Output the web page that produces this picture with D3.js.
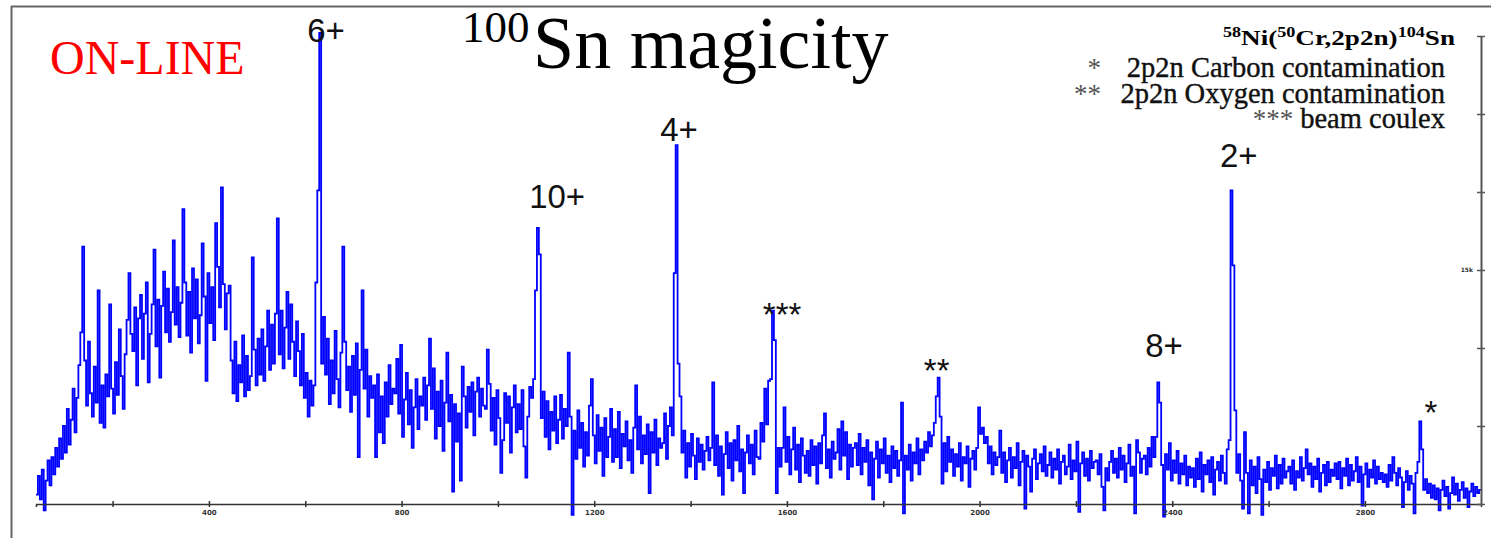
<!DOCTYPE html>
<html>
<head>
<meta charset="utf-8">
<script src="https://cdn.jsdelivr.net/npm/d3@7"></script>
<style>
    body { margin: 0; background: #fff; }
    svg { display: block; }
</style>
</head>
<body>
<div id="viz-spectrum"></div>
<script>
/**********************/
/******* data         */
/**********************/

// gamma spectrum, counts per bin of 4 channels, first bin starts at channel 41
const binStart = 41;
const binWidth = 4;
const counts = [
    // 41 - 140
    600, 1800, 300, 2200, -400, 1500, 2800, 1200, 3000, 1900, 3600, 2400, 4200, 2900, 5000, 3300, 6100, 3800, 5400, 7400, 4600, 6800, 8900, 11000, 16500,
    // 141 - 240
    9200, 6300, 10400, 7100, 5600, 8800, 6500, 13700, 5200, 7600, 4900, 8300, 6900, 12800, 7400, 5800, 9100, 7000, 11200, 8200, 6100, 9600, 11800, 14800, 10900,
    // 241 - 340
    9800, 12600, 7600, 11900, 13400, 9300, 12200, 14200, 7800, 10900, 12800, 16300, 10100, 13100, 8100, 12700, 14900, 11000, 13800, 10400, 12300, 16900, 11500, 13900, 10700,
    // 341 - 440
    12900, 18900, 14200, 10800, 13600, 9700, 15100, 11900, 14400, 10300, 12100, 16700, 13300, 7900, 14800, 11600, 13900, 10500, 18000, 15200, 12600, 20300, 14100, 11200, 13500,
    // 441 - 540
    14000, 9200, 7100, 10400, 6600, 8900, 7800, 10800, 6900, 9500, 7300, 8200, 15800, 9900, 7600, 10600, 8300, 11200, 7900, 10100, 12400, 8600, 11500, 9000, 12200,
    // 541 - 640 (6+)
    18300, 9600, 12400, 8700, 11300, 13600, 9300, 12800, 10400, 8200, 11700, 9800, 7600, 10900, 6800, 8400, 5600, 7900, 6300, 7600, 14200, 20100, 30200, 9000, 12000,
    // 641 - 740
    8300, 10600, 6400, 9200, 7100, 11100, 8000, 6200, 9700, 16500, 10400, 7300, 8800, 5900, 9500, 7000, 10300, 3000, 8600, 13700, 7400, 9900, 5600, 8200, 6800,
    // 741 - 840
    7600, 3000, 8300, 4600, 6900, 3900, 7800, 5600, 8900, 6400, 7400, 7100, 9300, 5800, 10200, 4300, 6700, 8400, 5100, 7300, 3600, 6200, 8000, 4800, 6900,
    // 841 - 940
    6300, 8100, 5400, 7600, 10600, 6100, 8700, 4200, 7200, 5000, 7900, 3400, 6500, 9700, 5300, 7000, 800, 6400, 4000, 5800, 1500, 8800, 6900, 4900, 7500,
    // 941 - 1040
    5900, 7800, 4400, 7200, 8100, 5600, 7400, 6300, 6100, 9900, 7700, 4700, 6800, 3800, 7300, 5500, 2000, 4100, 7100, 5200, 6900, 3300, 6200, 7600, 4600,
    // 1041 - 1140 (10+)
    6400, 4800, 7300, 3700, 1700, 5600, 7500, 6800, 8000, 13700, 17700, 16000, 5500, 7200, 4300, 6600, 3500, 5900, 4700, 6900, 3900, 5400, 7000, 4200, 6100,
    // 1141 - 1240
    5000, 9700, 5600, -700, 4700, 2900, 6000, 3600, 5200, 2400, 4600, 3100, 6300, 8000, 4400, 2600, 5700, 3400, 4900, 1800, 5500, 3000, 4300, 6100, 2700,
    // 1241 - 1340
    4800, 3000, 5900, 2300, 4500, 3700, 5300, 2800, 4100, 2000, 4900, 7600, 3500, 5600, 2600, 4400, 3200, 5100, 700, 4600, 3300, 5400, 2500, 4200, 3600,
    // 1341 - 1440 (4+)
    3900, 5800, 2900, 5000, 6200, 4400, 14800, 23000, 9000, 6900, 3300, 4700, 1700, 3900, 2400, 4500, 3100, 1600, 4200, 2700, 3800, 2200, 3400, 4300, 2800,
    // 1441 - 1540
    3600, 7800, 2500, 4400, 1800, 3700, 600, 3200, 4600, 2300, 3900, 1500, 4100, 2800, 5000, 2100, 3500, 700, 3300, 4400, 2600, 3800, 1900, 4700, 3000,
    // 1541 - 1640 (***)
    2900, 5200, 4000, 7400, 5100, 7900, 8000, 12400, 10500, 700, 3600, 2400, 3600, 6200, 2700, 4300, 1900, 3500, 4900, 2200, 3800, 1400, 4200, 3100, 2000,
    // 1641 - 1740
    3400, 1800, 4100, 2500, 3700, 1300, 3900, 2600, 4400, 5800, 2300, 3500, 1700, 4000, 2900, 3300, 4800, 2200, 5300, 3100, 4600, 1600, 3800, 2400, 3600,
    // 1741 - 1840
    3900, 2500, 4500, 1900, 3600, 2700, 4100, 1200, 3300, 300, 2900, 4000, 1700, 3500, 2600, 4200, 2000, 3100, 1400, 3700, 2300, 3400, 1800, 2800, 6500,
    // 1841 - 1940 (**)
    -600, 3100, 2200, 3800, 1500, 3300, 2600, 4200, 1900, 3500, 2800, 4000, 3300, 4600, 3700, 4400, 5200, 6900, 8100, 5600, 1300, 3900, 2100, 4300, 2700,
    // 1941 - 2040
    3500, 1800, 3200, 2400, 3900, 1500, 3000, 2600, 3700, 1100, 2900, 3400, 2200, 3600, 6200, 4500, 4900, 3900, 4300, 2600, 3700, 1900, 3300, 2500, 3000,
    // 2041 - 2140
    4700, 2000, 3300, 1400, 2800, 3600, 1700, 3000, 2300, 3900, 1200, 2700, 3400, -300, 3100, 2400, 800, 2900, 3500, 1600, 2600, 3200, 2100, 3700, 1800,
    // 2141 - 2240
    2500, 3300, 1700, 2900, 2200, 3500, 1300, 2700, 3100, 1900, 2400, 3800, 1600, 2800, 2100, 4000, -500, 2600, 3300, 1800, 2900, 1500, 3400, 2300, 2700,
    // 2241 - 2340
    2800, 1900, 3200, 1100, -400, 2300, 1500, 2700, 3400, 2000, 2900, 1700, 3600, 2200, 3100, 1400, 2600, 3800, 1800, 2400, -600, 4100, 3300, 2000, 2900,
    // 2341 - 2440 (8+)
    3100, 1900, 3600, 2400, 4300, 3000, 4300, 7800, 6500, 2500, -800, 3200, 2200, 3900, 1500, 2800, 2000, 3400, 1300, 2600, 1900, 3100, 1200, 2400, 1700,
    // 2441 - 2540 (2+)
    2300, 1100, 2900, 1600, 3300, 800, 2500, 1900, 2800, 1400, 3000, 600, 2200, 2700, 1500, 3100, 2000, 1300, 3500, 4100, 20100, 15300, 6000, 2000, 3200,
    // 2541 - 2640
    1500, -300, 4600, 2000, -600, 2800, 1200, 2400, 700, 3000, 1600, -700, 2200, 1400, 2700, 900, 2300, 1800, 3100, 1000, 2500, 1300, 2900, 1700, 2100,
    // 2641 - 2740
    2400, 1300, 2800, 900, 2100, 1700, 3000, 1500, 2300, 3500, 1900, 2600, 1100, 2400, 1600, 2900, 800, 2000, 2500, 1200, 2700, 1400, 2200, 1800, 2600,
    // 2741 - 2840
    1600, 2700, 1000, 2300, 1800, 2900, 1200, 2500, 1500, 2100, 3000, 1400, 2400, -100, 1900, 2600, 1100, 2200, 1700, 2800, 1300, 2400, 1600, 2000, 1400,
    // 2841 - 2940 (*)
    1900, 1100, 2500, 1500, 3000, 2000, 1200, 2300, 1700, -200, 1400, 2100, 900, 1800, 1300, -600, 2000, 2700, 5300, 3500, 900, 1600, 700, 1300, 400,
    // 2941 - 3040
    1200, 300, 1000, -400, 900, 1500, 500, 1100, -300, 700, 1700, 600, 1300, 200, 900, 1400, 400, 1000, -200, 800, 1300, 500, 1100, 700, 900
];

// transition labels (channel and count where the label sits)
const peakLabels = [
    { text: "6+",  channel: 643,  count: 29600 },
    { text: "10+", channel: 1123, count: 19000 },
    { text: "4+",  channel: 1376, count: 23300 },
    { text: "***", channel: 1590, count: 11400 },
    { text: "**",  channel: 1911, count: 7800 },
    { text: "8+",  channel: 2383, count: 9400 },
    { text: "2+",  channel: 2538, count: 21600 },
    { text: "*",   channel: 2937, count: 5100 }
];

const legendMarks = ["*", "**", "***"];
const legendTexts = ["2p2n Carbon contamination", "2p2n Oxygen contamination", "beam coulex"];

const xTicks = [200, 400, 600, 800, 1000, 1200, 1400, 1600, 1800, 2000, 2200, 2400, 2600, 2800];
const xLabels = { 400: "400", 800: "800", 1200: "1200", 1600: "1600", 2000: "2000", 2400: "2400", 2800: "2800" };
const yTicks = [0, 5000, 10000, 15000, 20000, 25000, 30000];
const yLabels = { 15000: "15k" };

/**********************/
/******* d3           */
/**********************/

const width = 1491;
const height = 538;
const serif = "'Liberation Serif', 'Times New Roman', serif";

const svg = d3.select("#viz-spectrum")
    .append("svg")
    .attr("width", width)
    .attr("height", height);

const x = d3.scaleLinear()
    .domain([binStart, binStart + counts.length * binWidth])
    .range([36, 1481]);

const y = d3.scaleLinear()
    .domain([0, 30000])
    .range([504, 36]);

// outer frame (top and left edge only)
svg.append("line")
    .attr("x1", 11).attr("x2", width)
    .attr("y1", 6.5).attr("y2", 6.5)
    .style("stroke", "#666").style("stroke-width", 2);
svg.append("line")
    .attr("x1", 11.5).attr("x2", 11.5)
    .attr("y1", 6).attr("y2", height)
    .style("stroke", "#666").style("stroke-width", 2);

// spectrum
const spectrum = counts.map((c, i) => ({ channel: binStart + i * binWidth, count: c }));
spectrum.push({ channel: binStart + counts.length * binWidth, count: counts[counts.length - 1] });

const line = d3.line()
    .x(d => x(d.channel))
    .y(d => y(d.count))
    .curve(d3.curveStepAfter);

svg.append("path")
    .datum(spectrum)
    .attr("d", line)
    .style("fill", "none")
    .style("stroke", "#0000ff")
    .style("stroke-width", 1.8);

// x axis
const xAxis = svg.append("g")
    .attr("transform", "translate(0, 504)")
    .call(d3.axisBottom(x)
        .tickValues(xTicks)
        .tickSizeOuter(0)
        .tickSize(3)
        .tickPadding(3)
        .tickFormat(d => xLabels[d] || ""));

xAxis.select(".domain").style("stroke", "#333").style("stroke-width", 1.5);
xAxis.selectAll(".tick line").attr("y1", -3).attr("y2", 3).style("stroke", "#333").style("stroke-width", 1.5);
xAxis.selectAll(".tick text")
    .style("font-family", "'DejaVu Sans', sans-serif")
    .style("font-size", "7px")
    .style("font-weight", "bold")
    .style("fill", "#333");

// right count axis
const yAxis = svg.append("g")
    .attr("transform", "translate(1481, 0)")
    .call(d3.axisLeft(y)
        .tickValues(yTicks)
        .tickSizeOuter(0)
        .tickSize(0)
        .tickPadding(8)
        .tickFormat(d => yLabels[d] || ""));

yAxis.select(".domain").style("stroke", "#555").style("stroke-width", 2);
yAxis.selectAll(".tick line").attr("x1", -4).attr("x2", 4).style("stroke", "#555").style("stroke-width", 1.5);
yAxis.selectAll(".tick text")
    .style("font-family", "'DejaVu Sans', sans-serif")
    .style("font-size", "6px")
    .style("font-weight", "bold")
    .style("fill", "#333");

// peak labels
svg.selectAll(".peak-label")
    .data(peakLabels)
    .enter()
    .append("text")
    .attr("class", "peak-label")
    .attr("x", d => x(d.channel))
    .attr("y", d => y(d.count))
    .attr("text-anchor", "middle")
    .style("font-family", "'Liberation Sans', Arial, sans-serif")
    .style("font-size", "33px")
    .style("fill", "#111")
    .text(d => d.text);

// ON-LINE tag
svg.append("text")
    .attr("x", 50)
    .attr("y", 74)
    .style("font-family", serif)
    .style("font-size", "48px")
    .style("fill", "#ff0000")
    .text("ON-LINE");

// title
svg.append("text")
    .attr("x", 462)
    .attr("y", 42)
    .style("font-family", serif)
    .style("font-size", "45px")
    .style("fill", "#000")
    .text("100");
svg.append("text")
    .attr("x", 533)
    .attr("y", 68)
    .style("font-family", serif)
    .style("font-size", "74px")
    .style("fill", "#000")
    .text("Sn magicity");

// reaction
const reaction = svg.append("text")
    .attr("x", 1455)
    .attr("y", 45)
    .attr("text-anchor", "end")
    .attr("textLength", 232)
    .attr("lengthAdjust", "spacingAndGlyphs")
    .style("font-family", serif)
    .style("font-weight", "bold")
    .style("fill", "#000");

[["58", true], ["Ni(", false], ["50", true], ["Cr,2p2n)", false], ["104", true], ["Sn", false]]
    .forEach(([t, sup], i) => {
        reaction.append("tspan")
            .attr("dy", i === 0 ? -8 : (sup ? -8 : 8))
            .style("font-size", sup ? "14px" : "21px")
            .text(t);
    });

// legend: labels right aligned, marks right aligned in their own column
const legend = svg.append("g").attr("class", "legend");
legendTexts.forEach((t, i) => {
    const label = legend.append("text")
        .attr("x", 1445)
        .attr("y", 77 + i * 25.5)
        .attr("text-anchor", "end")
        .style("font-family", serif)
        .style("font-size", "28.5px")
        .style("fill", "#111")
        .style("stroke", "#111")
        .style("stroke-width", 0.4)
        .text(t);
    const labelWidth = label.node().getComputedTextLength();
    const markRight = i < 2 ? 1101 : 1445 - labelWidth - 7;
    legend.append("text")
        .attr("x", markRight)
        .attr("y", 77 + i * 25.5)
        .attr("text-anchor", "end")
        .style("font-family", serif)
        .style("font-size", "27px")
        .style("fill", "#555")
        .text(legendMarks[i]);
});
</script>
</body>
</html>
